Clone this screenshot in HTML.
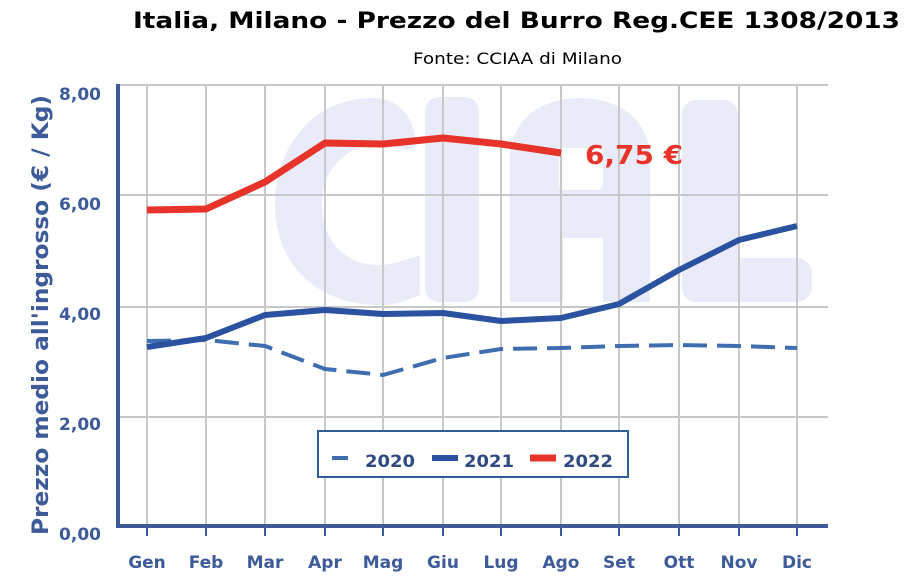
<!DOCTYPE html>
<html><head><meta charset="utf-8"><style>
body{margin:0;background:#fff;width:920px;height:582px;overflow:hidden}
svg text{font-family:"DejaVu Sans","Liberation Sans",sans-serif}
</style></head><body>
<svg width="920" height="582" viewBox="0 0 920 582" xmlns="http://www.w3.org/2000/svg">
<text x="133" y="28" font-size="22" font-weight="bold" fill="#000" textLength="767" lengthAdjust="spacingAndGlyphs">Italia, Milano - Prezzo del Burro Reg.CEE 1308/2013</text>
<text x="413" y="64" font-size="16" fill="#000" textLength="209" lengthAdjust="spacingAndGlyphs">Fonte: CCIAA di Milano</text>
<!-- watermark -->
<g fill="#e9ecf8">
<path d="M372 98 C315 98 275 145 275 205 C275 265 318 305 380 305 C400 305 410 298 420 295 L420 255 C410 258 395 265 378 265 C345 265 322 240 322 205 C322 170 345 145 378 145 C395 145 405 150 412 150 C420 140 412 98 372 98 Z"/>
<rect x="425" y="97" width="54" height="205" rx="14"/>
<path d="M510 302 L510 160 C510 120 540 98 580 98 C620 98 650 120 650 160 L650 302 L603 302 L603 238 L563 238 L563 302 Z"/>
<rect x="682" y="100" width="56" height="202" rx="14"/>
<rect x="682" y="258" width="130" height="44" rx="16"/>
</g>
<g fill="#fff"><rect x="559" y="148" width="44" height="42" rx="6"/></g>
<!-- grid -->
<g stroke="#c8c8c8" stroke-width="2">
<line x1="120" y1="85" x2="828" y2="85"/>
<line x1="120" y1="195" x2="828" y2="195"/>
<line x1="120" y1="307" x2="828" y2="307"/>
<line x1="120" y1="417" x2="828" y2="417"/>
<line x1="147" y1="85" x2="147" y2="526"/><line x1="206" y1="85" x2="206" y2="526"/>
<line x1="265" y1="85" x2="265" y2="526"/><line x1="325" y1="85" x2="325" y2="526"/>
<line x1="383" y1="85" x2="383" y2="526"/><line x1="443" y1="85" x2="443" y2="526"/>
<line x1="501" y1="85" x2="501" y2="526"/><line x1="561" y1="85" x2="561" y2="526"/>
<line x1="619" y1="85" x2="619" y2="526"/><line x1="679" y1="85" x2="679" y2="526"/>
<line x1="739" y1="85" x2="739" y2="526"/><line x1="797" y1="85" x2="797" y2="526"/>
</g>
<!-- axes -->
<g stroke="#3d5a99">
<line x1="118" y1="84" x2="118" y2="528" stroke-width="4"/>
<line x1="116" y1="526" x2="828" y2="526" stroke-width="4"/>
<g stroke-width="2">
<line x1="147" y1="526" x2="147" y2="536"/><line x1="206" y1="526" x2="206" y2="536"/>
<line x1="265" y1="526" x2="265" y2="536"/><line x1="325" y1="526" x2="325" y2="536"/>
<line x1="383" y1="526" x2="383" y2="536"/><line x1="443" y1="526" x2="443" y2="536"/>
<line x1="501" y1="526" x2="501" y2="536"/><line x1="561" y1="526" x2="561" y2="536"/>
<line x1="619" y1="526" x2="619" y2="536"/><line x1="679" y1="526" x2="679" y2="536"/>
<line x1="739" y1="526" x2="739" y2="536"/><line x1="797" y1="526" x2="797" y2="536"/>
</g></g>
<g font-size="17" font-weight="bold" fill="#3d5a99" text-anchor="end">
<text x="101" y="100">8,00</text><text x="101" y="210">6,00</text>
<text x="101" y="320">4,00</text><text x="101" y="430">2,00</text><text x="101" y="540">0,00</text>
</g>
<g font-size="17" font-weight="bold" fill="#3d5a99" text-anchor="middle">
<text x="147" y="568">Gen</text><text x="206" y="568">Feb</text><text x="265" y="568">Mar</text>
<text x="325" y="568">Apr</text><text x="383" y="568">Mag</text><text x="443" y="568">Giu</text>
<text x="501" y="568">Lug</text><text x="561" y="568">Ago</text><text x="619" y="568">Set</text>
<text x="679" y="568">Ott</text><text x="739" y="568">Nov</text><text x="797" y="568">Dic</text>
</g>
<text transform="translate(48,315) rotate(-90)" text-anchor="middle" font-size="22" font-weight="bold" fill="#3d5a99" textLength="440" lengthAdjust="spacingAndGlyphs">Prezzo medio all'ingrosso (€ / Kg)</text>
<!-- series -->
<polyline fill="none" stroke="#3e6db0" stroke-width="4" stroke-dasharray="24,10" points="147,341 206,340 265,346 325,369 383,375 443,358 501,349 561,348 619,346 679,345 739,346 797,348"/>
<polyline fill="none" stroke="#2a52a0" stroke-width="6" stroke-linejoin="round" points="147,347 206,338 265,315 325,310 383,314 443,313 501,321 561,318 619,304 679,270 739,240 797,226"/>
<polyline fill="none" stroke="#e8332a" stroke-width="7" stroke-linejoin="round" points="147,210 206,209 265,182 325,143 383,144 443,138 501,144 561,153"/>
<text x="585" y="164" font-size="26" font-weight="bold" fill="#e8332a" textLength="98" lengthAdjust="spacingAndGlyphs">6,75 €</text>
<!-- legend -->
<rect x="318" y="431" width="310" height="46" fill="#fff" stroke="#2e5f96" stroke-width="2"/>
<line x1="332" y1="458" x2="348" y2="458" stroke="#3e6db0" stroke-width="4"/>
<line x1="432" y1="458" x2="458" y2="458" stroke="#2a52a0" stroke-width="6"/>
<line x1="530" y1="458" x2="556" y2="458" stroke="#e8332a" stroke-width="7"/>
<g font-size="17" font-weight="bold" fill="#2e4a80">
<text x="365" y="467" textLength="50" lengthAdjust="spacingAndGlyphs">2020</text><text x="464" y="467" textLength="50" lengthAdjust="spacingAndGlyphs">2021</text><text x="563" y="467" textLength="50" lengthAdjust="spacingAndGlyphs">2022</text>
</g>
</svg>
</body></html>
